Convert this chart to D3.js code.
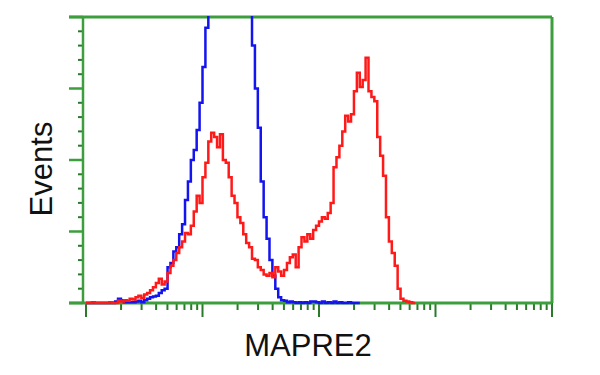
<!DOCTYPE html>
<html>
<head>
<meta charset="utf-8">
<script src="https://cdn.jsdelivr.net/npm/d3@7"></script>
<style>
  body { margin: 0; background: #fff; }
</style>
</head>
<body>
<script>
// histogram bins, in decades of fluorescence (log10)
const binEdges = [
  0.000,0.025,0.050,0.075,0.100,0.125,0.150,0.175,0.200,0.225,
  0.250,0.275,0.300,0.325,0.350,0.375,0.400,0.425,0.450,0.475,
  0.500,0.525,0.550,0.575,0.600,0.625,0.650,0.675,0.700,0.725,
  0.750,0.775,0.800,0.825,0.850,0.875,0.900,0.925,0.950,0.975,
  1.000,1.025,1.050,1.075,1.100,1.125,1.150,1.175,1.200,1.225,
  1.250,1.275,1.300,1.325,1.350,1.375,1.400,1.425,1.450,1.475,
  1.500,1.525,1.550,1.575,1.600,1.625,1.650,1.675,1.700,1.725,
  1.750,1.775,1.800,1.825,1.850,1.875,1.900,1.925,1.950,1.975,
  2.000,2.025,2.050,2.075,2.100,2.125,2.150,2.175,2.200,2.225,
  2.250,2.275,2.300,2.325,2.350,2.375,2.400,2.425,2.450,2.475,
  2.500,2.525,2.550,2.575,2.600,2.625,2.650,2.675,2.700,2.725,
  2.750,2.775,2.800,2.825
];

// control (blue) counts per bin
const controlCounts = [
  0,0,0,0,0,0,0,0,0,0,
  2,6,4,1,1,1,1,2,3,1,
  4,6,8,9,10,14,18,20,50,56,
  72,78,96,110,144,170,200,214,242,280,
  330,385,440,520,560,600,620,600,590,580,
  560,540,520,500,470,440,410,360,300,245,
  170,120,90,60,38,20,8,4,3,1,
  2,1,0,1,0,1,0,2,2,1,
  0,2,0,1,0,2,0,1,0,0,
  1,0,0,0
];

// MAPRE2 transfected (red) counts per bin
const mapre2Counts = [
  0,0,1,0,0,0,0,0,1,0,
  0,3,2,4,3,6,5,8,10,7,
  12,14,18,22,28,34,26,30,42,52,
  60,70,78,86,98,96,108,128,150,140,
  176,196,226,238,232,218,236,200,196,176,
  150,140,120,112,96,84,78,62,60,50,
  46,40,38,42,36,50,44,38,46,56,
  64,68,50,78,92,86,96,90,102,108,
  114,120,118,126,140,190,204,220,240,262,
  254,264,296,322,302,312,343,296,288,282,
  232,206,178,120,86,70,52,20,6,3,
  2,1,0
];

const yMajor = [0, 100, 200, 300, 400];
const yMinor = [20,40,60,80,120,140,160,180,220,240,260,280,320,340,360,380];
const xTitle = "MAPRE2";
const yTitle = "Events";

// create svg canvas
const canvWidth = 600, canvHeight = 375;
const svg = d3.select("body").append("svg")
  .attr("width", canvWidth)
  .attr("height", canvHeight)
  .style("background-color", "#fff");

// plot box
const boxLeft = 83, boxRight = 552, boxTop = 17, boxBottom = 303;
const frameColor = "#3c9e3c", tickColor = "#2b7a2b";

const x = d3.scaleLog().domain([1, 10000]).range([86, boxRight]);
const y = d3.scaleLinear().domain([0, 400]).range([boxBottom, boxTop]);

// y ticks
svg.append("g").selectAll("line").data(yMinor).join("line")
  .attr("x1", boxLeft - 5).attr("x2", boxLeft)
  .attr("y1", d => y(d)).attr("y2", d => y(d))
  .style("stroke", tickColor).style("stroke-width", 2);
svg.append("g").selectAll("line").data(yMajor).join("line")
  .attr("x1", boxLeft - 14).attr("x2", boxLeft)
  .attr("y1", d => y(d)).attr("y2", d => y(d))
  .style("stroke", frameColor).style("stroke-width", 2.5);

// x ticks (log)
const xTicks = x.ticks();
svg.append("g").selectAll("line").data(xTicks).join("line")
  .attr("x1", d => x(d)).attr("x2", d => x(d))
  .attr("y1", boxBottom)
  .attr("y2", d => Number.isInteger(Math.log10(d)) ? boxBottom + 14 : boxBottom + 7)
  .style("stroke", tickColor).style("stroke-width", 2);

// frame
svg.append("line").attr("x1", boxLeft - 14).attr("x2", boxRight).attr("y1", boxTop).attr("y2", boxTop)
  .style("stroke", frameColor).style("stroke-width", 3);
svg.append("line").attr("x1", boxLeft - 14).attr("x2", boxRight).attr("y1", boxBottom).attr("y2", boxBottom)
  .style("stroke", frameColor).style("stroke-width", 3);
svg.append("line").attr("x1", boxLeft).attr("x2", boxLeft).attr("y1", boxTop).attr("y2", boxBottom)
  .style("stroke", frameColor).style("stroke-width", 2.5);
svg.append("line").attr("x1", boxRight).attr("x2", boxRight).attr("y1", boxTop).attr("y2", boxBottom)
  .style("stroke", frameColor).style("stroke-width", 3);

// clip the histograms to the box
svg.append("clipPath").attr("id", "plotClip")
  .append("rect").attr("x", boxLeft).attr("y", boxTop - 1)
  .attr("width", boxRight - boxLeft).attr("height", boxBottom - boxTop + 3);

const stepLine = d3.line()
  .x(d => x(Math.pow(10, d[0])))
  .y(d => y(d[1]))
  .curve(d3.curveStepAfter);

function histPoints(counts) {
  const pts = counts.map((c, i) => [binEdges[i], c]);
  pts.push([binEdges[counts.length], counts[counts.length - 1]]);
  return pts;
}

svg.append("path").datum(histPoints(controlCounts))
  .attr("d", stepLine).attr("clip-path", "url(#plotClip)")
  .style("fill", "none").style("stroke", "#1414ee").style("stroke-width", 2.5);

svg.append("path").datum(histPoints(mapre2Counts))
  .attr("d", stepLine).attr("clip-path", "url(#plotClip)")
  .style("fill", "none").style("stroke", "#ff1a1a").style("stroke-width", 2.5);

// axis titles
svg.append("text").text(xTitle)
  .attr("x", 308).attr("y", 356)
  .attr("font-family", "'Liberation Sans', Arial, sans-serif").attr("font-size", "31px")
  .style("fill", "#111").style("text-anchor", "middle");

svg.append("text").text(yTitle)
  .attr("transform", "translate(52,169) rotate(-90)")
  .attr("font-family", "'Liberation Sans', Arial, sans-serif").attr("font-size", "31px")
  .style("fill", "#111").style("text-anchor", "middle");
</script>
</body>
</html>
